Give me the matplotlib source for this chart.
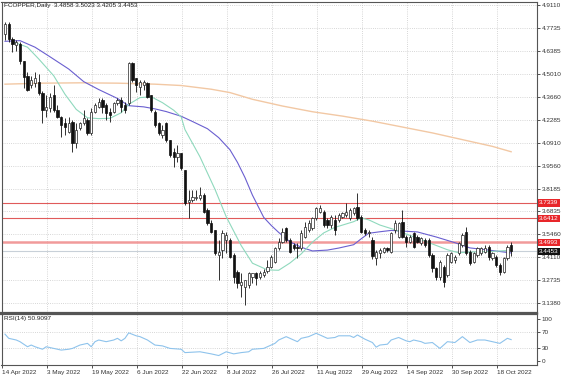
import matplotlib
matplotlib.use("Agg")
import matplotlib.pyplot as plt
import matplotlib.transforms as mtransforms

plt.rcParams["font.family"] = ["Liberation Sans", "DejaVu Sans"]

# ---------------- data ----------------
opens = [4.74, 4.80, 4.71, 4.675, 4.68, 4.575, 4.49, 4.435, 4.445, 4.455,
         4.385, 4.286, 4.296, 4.376, 4.286, 4.247, 4.207, 4.157, 4.217, 4.088,
         4.177, 4.207, 4.227, 4.148, 4.276, 4.306, 4.346, 4.316, 4.276, 4.276,
         4.326, 4.346, 4.316, 4.326, 4.564, 4.475, 4.425, 4.435, 4.445, 4.376,
         4.276, 4.207, 4.138, 4.207, 4.108, 4.038, 4.009, 4.029, 3.929, 3.741,
         3.751, 3.761, 3.761, 3.781, 3.691, 3.612, 3.572, 3.424, 3.453, 3.513,
         3.513, 3.424, 3.325, 3.245, 3.235, 3.245, 3.295, 3.315, 3.295, 3.305,
         3.330, 3.354, 3.384, 3.463, 3.503, 3.582, 3.513, 3.483, 3.473, 3.463,
         3.533, 3.573, 3.582, 3.642, 3.682, 3.682, 3.632, 3.602, 3.632, 3.632,
         3.652, 3.662, 3.642, 3.672, 3.711, 3.652, 3.573, 3.553, 3.513, 3.404,
         3.434, 3.444, 3.463, 3.444, 3.573, 3.533, 3.622, 3.533, 3.503, 3.553,
         3.533, 3.493, 3.513, 3.513, 3.424, 3.344, 3.295, 3.354, 3.305, 3.384,
         3.394, 3.434, 3.483, 3.563, 3.444, 3.384, 3.424, 3.434, 3.444, 3.473,
         3.404, 3.414, 3.364, 3.325, 3.404, 3.4858]
highs = [4.81, 4.81, 4.72, 4.70, 4.69, 4.58, 4.51, 4.49, 4.51, 4.50,
         4.40, 4.376, 4.385, 4.435, 4.316, 4.25, 4.237, 4.247, 4.227, 4.207,
         4.217, 4.286, 4.237, 4.296, 4.326, 4.356, 4.356, 4.326, 4.296, 4.336,
         4.356, 4.366, 4.336, 4.574, 4.574, 4.475, 4.465, 4.465, 4.455, 4.376,
         4.286, 4.217, 4.197, 4.217, 4.108, 4.058, 4.078, 4.029, 3.929, 3.810,
         3.810, 3.810, 3.830, 3.790, 3.701, 3.632, 3.572, 3.513, 3.572, 3.562,
         3.523, 3.434, 3.335, 3.315, 3.275, 3.325, 3.315, 3.325, 3.330, 3.340,
         3.394, 3.424, 3.473, 3.523, 3.582, 3.592, 3.523, 3.493, 3.493, 3.573,
         3.622, 3.632, 3.652, 3.711, 3.721, 3.692, 3.642, 3.662, 3.662, 3.672,
         3.682, 3.731, 3.701, 3.711, 3.790, 3.662, 3.582, 3.573, 3.530, 3.453,
         3.463, 3.473, 3.473, 3.563, 3.632, 3.622, 3.692, 3.543, 3.543, 3.563,
         3.543, 3.533, 3.523, 3.523, 3.434, 3.354, 3.394, 3.364, 3.434, 3.444,
         3.424, 3.503, 3.553, 3.592, 3.453, 3.444, 3.473, 3.473, 3.483, 3.483,
         3.444, 3.424, 3.374, 3.414, 3.483, 3.5023]
lows = [4.70, 4.69, 4.63, 4.64, 4.56, 4.415, 4.40, 4.415, 4.425, 4.376,
        4.207, 4.247, 4.276, 4.276, 4.237, 4.128, 4.138, 4.148, 4.038, 4.058,
        4.167, 4.197, 4.138, 4.138, 4.266, 4.296, 4.266, 4.227, 4.217, 4.266,
        4.316, 4.276, 4.266, 4.316, 4.455, 4.395, 4.376, 4.405, 4.356, 4.276,
        4.187, 4.138, 4.118, 4.098, 4.009, 3.949, 3.979, 3.929, 3.721, 3.642,
        3.741, 3.751, 3.751, 3.671, 3.602, 3.552, 3.424, 3.275, 3.404, 3.434,
        3.404, 3.255, 3.225, 3.176, 3.126, 3.225, 3.255, 3.245, 3.280, 3.290,
        3.315, 3.344, 3.374, 3.453, 3.493, 3.503, 3.434, 3.453, 3.404, 3.453,
        3.523, 3.563, 3.573, 3.632, 3.672, 3.592, 3.582, 3.582, 3.543, 3.622,
        3.642, 3.652, 3.632, 3.662, 3.632, 3.553, 3.543, 3.533, 3.400, 3.364,
        3.404, 3.434, 3.444, 3.434, 3.553, 3.523, 3.523, 3.473, 3.493, 3.463,
        3.493, 3.483, 3.473, 3.414, 3.325, 3.275, 3.275, 3.235, 3.295, 3.374,
        3.374, 3.424, 3.473, 3.424, 3.364, 3.374, 3.414, 3.424, 3.434, 3.394,
        3.394, 3.354, 3.305, 3.315, 3.394, 3.4205]
closes = [4.80, 4.71, 4.68, 4.69, 4.575, 4.485, 4.405, 4.465, 4.475, 4.385,
          4.286, 4.306, 4.366, 4.286, 4.247, 4.197, 4.187, 4.207, 4.088, 4.167,
          4.207, 4.237, 4.148, 4.276, 4.316, 4.336, 4.306, 4.266, 4.257, 4.326,
          4.346, 4.306, 4.286, 4.564, 4.465, 4.435, 4.455, 4.455, 4.366, 4.286,
          4.197, 4.148, 4.167, 4.108, 4.019, 4.009, 4.029, 3.939, 3.731, 3.751,
          3.771, 3.771, 3.781, 3.681, 3.612, 3.562, 3.434, 3.443, 3.552, 3.543,
          3.414, 3.295, 3.255, 3.265, 3.275, 3.315, 3.315, 3.285, 3.315, 3.325,
          3.355, 3.414, 3.463, 3.503, 3.563, 3.513, 3.444, 3.463, 3.463, 3.553,
          3.592, 3.612, 3.642, 3.701, 3.701, 3.602, 3.602, 3.652, 3.573, 3.662,
          3.672, 3.682, 3.692, 3.701, 3.642, 3.563, 3.553, 3.563, 3.420, 3.444,
          3.453, 3.463, 3.453, 3.553, 3.612, 3.612, 3.533, 3.503, 3.533, 3.473,
          3.503, 3.523, 3.483, 3.424, 3.344, 3.295, 3.384, 3.265, 3.424, 3.434,
          3.414, 3.493, 3.543, 3.434, 3.374, 3.434, 3.463, 3.463, 3.463, 3.414,
          3.434, 3.364, 3.325, 3.404, 3.473, 3.4453]

ma_fast_bars = [2, 6, 9, 13, 16, 19, 22, 25, 28, 31, 33, 36, 39, 42, 45, 47, 48, 52, 56,
                59, 63, 66, 70, 73, 76, 79, 82, 85, 88, 93, 95, 97, 100, 104, 111, 118,
                121, 125, 130, 135]
ma_fast_vals = [4.693, 4.660, 4.590, 4.490, 4.380, 4.290, 4.240, 4.235, 4.237, 4.270,
                4.320, 4.360, 4.365, 4.330, 4.285, 4.245, 4.170, 4.008, 3.815, 3.652,
                3.480, 3.375, 3.335, 3.333, 3.376, 3.430, 3.500, 3.555, 3.588, 3.622,
                3.644, 3.633, 3.602, 3.574, 3.515, 3.455, 3.437, 3.442, 3.445, 3.452]

ma_mid_bars = [0, 4, 8, 12, 17, 21, 25, 30, 33, 37, 40, 43, 47, 50, 54, 57, 60, 62, 64,
               66, 69, 71, 73, 76, 79, 82, 86, 89, 93, 95, 97, 100, 103, 110, 115, 120,
               124, 129, 135]
ma_mid_vals = [4.695, 4.699, 4.660, 4.603, 4.530, 4.455, 4.408, 4.355, 4.312, 4.305,
               4.293, 4.277, 4.249, 4.218, 4.175, 4.122, 4.050, 3.975, 3.885, 3.780,
               3.648, 3.600, 3.558, 3.502, 3.470, 3.448, 3.453, 3.465, 3.485, 3.520,
               3.553, 3.562, 3.570, 3.561, 3.531, 3.497, 3.466, 3.453, 3.436]

ma_slow_bars = [0, 10, 20, 30, 40, 47, 55, 60, 66, 74, 82, 90, 98, 106, 114, 122, 130, 135]
ma_slow_vals = [4.440, 4.446, 4.448, 4.446, 4.440, 4.432, 4.410, 4.390, 4.350, 4.310,
                4.276, 4.250, 4.220, 4.185, 4.150, 4.110, 4.070, 4.038]

rsi_bars = [0, 1, 3, 4, 6, 7, 8, 10, 11, 13, 15, 17, 18, 20, 22, 23, 24, 25, 27, 29, 30,
            31, 32, 33, 35, 36, 38, 40, 42, 44, 47, 48, 52, 55, 57, 59, 61, 63, 65, 66,
            69, 72, 73, 75, 77, 78, 79, 81, 83, 84, 86, 88, 89, 92, 93, 94, 96, 98, 99,
            100, 102, 103, 105, 107, 108, 109, 111, 112, 114, 116, 118, 120, 122, 124,
            126, 128, 130, 132, 134, 135]
rsi_vals = [64, 54, 50, 46, 34, 38, 34, 28, 34, 30, 26, 28, 30, 38, 42, 34, 46, 50, 46, 50,
            54, 48, 54, 67, 60, 58, 50, 38, 36, 30, 28, 20, 22, 17, 13, 22, 17, 20, 22, 28,
            30, 42, 50, 58, 50, 46, 54, 58, 66, 62, 54, 56, 60, 60, 56, 62, 52, 44, 33,
            38, 40, 50, 56, 48, 46, 50, 46, 42, 44, 30, 46, 44, 58, 44, 50, 50, 46, 42,
            54, 50.9097]

price_levels = [4.9110, 4.7735, 4.6385, 4.5010, 4.3660, 4.2285, 4.0910, 3.9560,
                3.8185, 3.6835, 3.5460, 3.4110, 3.2735, 3.1380]
hlines = [3.7339, 3.6412, 3.4993]
last_price = 3.4453
date_labels = ["14 Apr 2022", "3 May 2022", "19 May 2022", "6 Jun 2022", "22 Jun 2022",
               "8 Jul 2022", "26 Jul 2022", "11 Aug 2022", "29 Aug 2022", "14 Sep 2022",
               "30 Sep 2022", "18 Oct 2022"]
date_bars = [0, 12, 24, 36, 48, 60, 72, 84, 96, 108, 120, 132]
rsi_levels = [100, 70, 30, 0]

# ---------------- figure ----------------
W, H = 564, 376
fig = plt.figure(figsize=(W / 100, H / 100), dpi=100)
fig.patch.set_facecolor("white")

left = 1.5 / W
width = (537 - 1.5) / W
ax = fig.add_axes([left, 1 - 312.5 / H, width, (312.5 - 2) / H])
axr = fig.add_axes([left, 1 - 365 / H, width, (365 - 314) / H])

xlim = (-0.93, 141.9)
grid_kw = dict(color="#c9c9c9", linestyle=(0, (1, 1.6)), linewidth=0.6)
tick_pos = [b - 0.7 for b in date_bars]
fs = 4.6

for a in (ax, axr):
    a.set_xlim(*xlim)
    a.set_facecolor("white")
    for s in a.spines.values():
        s.set_color("#555555")
        s.set_linewidth(0.8)
    a.set_axisbelow(True)
    for t in tick_pos:
        a.axvline(t, zorder=0, **grid_kw)

# main panel
ax.set_ylim(3.0817, 4.9288)
for lv in price_levels:
    ax.axhline(lv, zorder=0, **grid_kw)
ax.spines["bottom"].set_linewidth(1.6)
axr.spines["top"].set_linewidth(1.6)

ax.yaxis.tick_right()
ax.set_yticks(price_levels)
ax.set_yticklabels(["%.4f" % v for v in price_levels])
ax.tick_params(axis="y", labelsize=fs, length=2, width=0.6, pad=1.5, colors="#333333")
ax.set_xticks([])

# horizontal level lines
ax.axhline(hlines[0], color="#e05a5a", lw=0.8, zorder=1)
ax.axhline(hlines[1], color="#e05a5a", lw=0.8, zorder=1)
ax.axhline(hlines[2], color="#f19a9a", lw=1.8, zorder=1)
ax.axhline(last_price, color="#c8d0d8", lw=0.8, zorder=1)

# moving averages
ax.plot(ma_slow_bars, ma_slow_vals, color="#f2c8a4", lw=1.0, zorder=2)
ax.plot(ma_mid_bars, ma_mid_vals, color="#6a5fd0", lw=0.8, zorder=2)
ax.plot(ma_fast_bars, ma_fast_vals, color="#8fd9bd", lw=0.8, zorder=2)

# candles
bw = 0.6
for i, (o, h, l, c) in enumerate(zip(opens, highs, lows, closes)):
    ax.vlines(i, l, h, color="#111111", lw=0.6, zorder=3)
    bottom = min(o, c)
    height = max(abs(c - o), 0.004)
    if c >= o:
        ax.bar(i, height, bottom=bottom, width=bw, color="white",
               edgecolor="#222222", linewidth=0.5, zorder=4)
    else:
        ax.bar(i, height, bottom=bottom, width=bw, color="#111111",
               edgecolor="#111111", linewidth=0.5, zorder=4)

# price boxes on the right scale
trans = mtransforms.blended_transform_factory(ax.transAxes, ax.transData)
for lv in hlines:
    ax.text(1.004, lv, "%.4f" % lv, transform=trans, fontsize=fs, color="white",
            va="center", ha="left", clip_on=False, zorder=10,
            bbox=dict(boxstyle="square,pad=0.2", facecolor="#e8262a", edgecolor="none"))
ax.text(1.004, last_price, "%.4f" % last_price, transform=trans, fontsize=fs,
        color="white", va="center", ha="left", clip_on=False, zorder=10,
        bbox=dict(boxstyle="square,pad=0.2", facecolor="#111111", edgecolor="none"))

ax.text(0.004, 0.997, "FCOPPER,Daily  %.4f %.4f %.4f %.4f" % (opens[-1], highs[-1], lows[-1], closes[-1]),
        transform=ax.transAxes, fontsize=fs, va="top", ha="left", color="#222222")

# RSI panel
axr.set_ylim(-9.5, 111.9)
for lv in (70, 30):
    axr.axhline(lv, zorder=0, **grid_kw)
axr.plot(rsi_bars, rsi_vals, color="#8ec3ec", lw=0.8, zorder=2)
axr.yaxis.tick_right()
axr.set_yticks(rsi_levels)
axr.set_yticklabels([str(v) for v in rsi_levels])
axr.tick_params(axis="y", labelsize=fs, length=2, width=0.6, pad=1.5, colors="#333333")
axr.set_xticks(tick_pos)
axr.set_xticklabels(date_labels)
for lab in axr.get_xticklabels():
    lab.set_horizontalalignment("left")
axr.tick_params(axis="x", labelsize=fs, length=2.5, width=0.6, pad=1.0, colors="#333333")
axr.text(0.004, 0.96, "RSI(14) 50.9097", transform=axr.transAxes, fontsize=fs,
         va="top", ha="left", color="#222222")

fig.savefig("out.png", dpi=100, facecolor="white")
